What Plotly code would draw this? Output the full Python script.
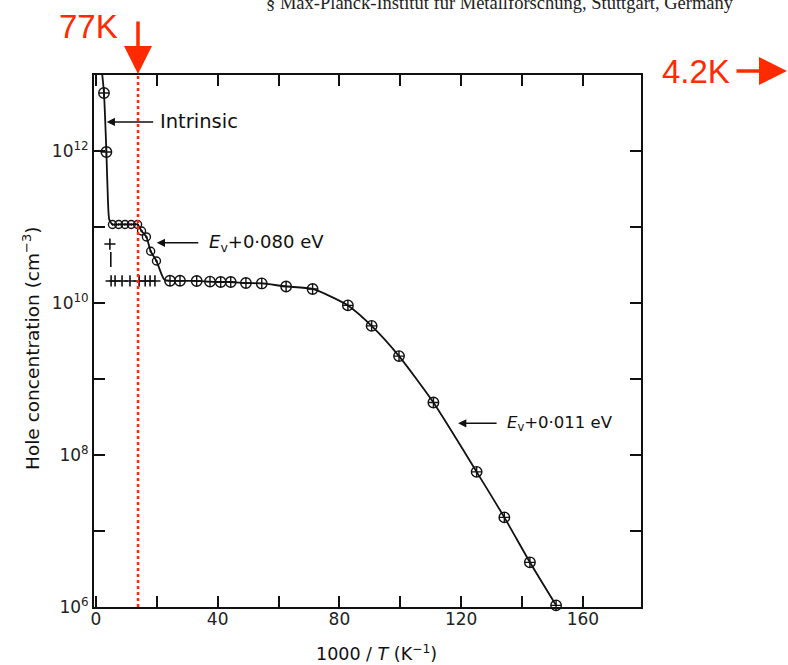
import numpy as np
import plotly.graph_objects as go

# ---- measured hole concentration vs inverse temperature ----
# intrinsic regime (crossed circles at the very left)
intrinsic_x = [2.66, 3.45]
intrinsic_y = [5.8e12, 9.7e11]

# E_v + 0.080 eV level (dotted circles)
deep_x = [5.45, 7.5, 9.56, 11.6, 13.7, 15.0, 16.6, 18.0, 19.9]
deep_y = [1.08e11, 1.08e11, 1.08e11, 1.08e11, 1.08e11, 8.85e10, 7.4e10, 4.8e10, 3.57e10]

# second sample (plain plus signs)
plus_x = [4.6, 5.0, 6.3, 8.6, 11.2, 14.2, 16.2, 17.8, 19.4]
plus_y = [5.97e10, 1.95e10, 1.95e10, 1.95e10, 1.95e10, 1.95e10, 1.95e10, 1.95e10, 1.95e10]
plus_gap_x = [4.9, 4.9]
plus_gap_y = [4.7e10, 2.98e10]

# E_v + 0.011 eV level (crossed circles)
shallow_x = [24.35, 27.63, 33.12, 37.5, 41.0, 44.3, 49.3, 54.5, 62.5, 71.2,
             82.8, 90.6, 99.6, 110.9, 125.1, 134.2, 142.6, 151.2]
shallow_y = [1.96e10, 1.96e10, 1.95e10, 1.91e10, 1.89e10, 1.89e10, 1.83e10, 1.81e10, 1.65e10, 1.53e10,
             9.3e9, 5.0e9, 2.0e9, 4.9e8, 6.0e7, 1.51e7, 3.87e6, 1.05e6]

# guide curve through the whole data set
curve_x = [2.1, 2.66, 3.45, 3.95, 4.4, 5.45, 7.5, 9.56, 11.6, 13.7, 15.0, 16.6, 18.0, 19.9, 22.4] + shallow_x
curve_y = [1.0e13, 5.8e12, 9.7e11, 2.3e11, 1.25e11, 1.08e11, 1.08e11, 1.08e11, 1.08e11, 1.08e11,
           8.85e10, 7.4e10, 4.8e10, 3.57e10, 2.05e10] + shallow_y

x_ticks = [0, 20, 40, 60, 80, 100, 120, 140, 160]
x_labels = ["0", "", "40", "", "80", "", "120", "", "160"]
y_ticks = [1e6, 1e7, 1e8, 1e9, 1e10, 1e11, 1e12, 1e13]
y_labels = ["10<sup>6</sup>", "", "10<sup>8</sup>", "", "10<sup>10</sup>", "", "10<sup>12</sup>", ""]

# 77 K marker as drawn on the inverse-temperature axis
mark_77k_x = 13.85

INK = "#111111"
RED = "#ff2a00"
FONT = "DejaVu Sans"

fig = go.Figure()

fig.add_trace(go.Scatter(x=curve_x, y=curve_y, mode="lines",
                         line=dict(color=INK, width=1.8, shape="spline", smoothing=0.6),
                         hoverinfo="skip", cliponaxis=True))
fig.add_trace(go.Scatter(x=plus_gap_x, y=plus_gap_y, mode="lines",
                         line=dict(color=INK, width=1.6), hoverinfo="skip"))
fig.add_trace(go.Scatter(x=plus_x, y=plus_y, mode="markers",
                         marker=dict(symbol="cross-thin-open", size=8, color=INK,
                                     line=dict(color=INK, width=1.6))))
fig.add_trace(go.Scatter(x=deep_x, y=deep_y, mode="markers",
                         marker=dict(symbol="circle-open-dot", size=8, color=INK,
                                     line=dict(color=INK, width=1.4))))
fig.add_trace(go.Scatter(x=intrinsic_x + shallow_x, y=intrinsic_y + shallow_y, mode="markers",
                         cliponaxis=False,
                         marker=dict(symbol="circle-cross-open", size=10.5, color=INK,
                                     line=dict(color=INK, width=1.4))))

axis_common = dict(showline=True, linewidth=2, linecolor=INK, mirror="allticks",
                   ticks="inside", ticklen=11, tickwidth=2, tickcolor=INK,
                   showgrid=False, zeroline=False,
                   tickfont=dict(family=FONT, size=17, color="#222222"))

fig.update_layout(
    width=788, height=665,
    margin=dict(l=94, r=147, t=75, b=58),
    paper_bgcolor="white", plot_bgcolor="white",
    showlegend=False,
    xaxis=dict(range=[-0.62, 179.1], tickmode="array", tickvals=x_ticks, ticktext=x_labels,
               ticklabelstandoff=-4, **axis_common),
    yaxis=dict(type="log", range=[6, 13], tickmode="array", tickvals=y_ticks, ticktext=y_labels,
               **axis_common),
)


def px(xp, yp):
    return (xp - 94) / 547, (607 - yp) / 532


def note(xp, yp, text, font, **kw):
    xa, ya = px(xp, yp)
    fig.add_annotation(xref="paper", yref="paper", x=xa, y=ya, text=text, showarrow=False,
                       xanchor="center", yanchor="middle", font=font, **kw)


# axis titles
note(376, 653, "1000 / <i>T</i> (K<sup>−1</sup>)", dict(family=FONT, size=17.5, color=INK))
note(31, 349, "Hole concentration (cm<sup>−3</sup>)", dict(family=FONT, size=18.5, color=INK),
     textangle=-90)

# labelled arrows pointing at the curve
labels = [
    (3.55, 2.41e12, 20.4, "Intrinsic", 19.5, 48),
    (20.0, 6.2e10, 36.4, "<i>E</i><sub>v</sub>+0·080 eV", 18, 43),
    (119.0, 2.61e8, 134.4, "<i>E</i><sub>v</sub>+0·011 eV", 16.5, 40),
]
for tip_x, val, text_x, text, size, tail in labels:
    fig.add_annotation(x=tip_x, y=np.log10(val), xref="x", yref="y", text="",
                       showarrow=True, arrowhead=2, arrowsize=1.1, arrowwidth=1.5,
                       arrowcolor=INK, ax=tail, ay=0)
    fig.add_annotation(x=text_x, y=np.log10(val), xref="x", yref="y", text=text,
                       showarrow=False, xanchor="left", yanchor="middle",
                       font=dict(family=FONT, size=size, color=INK))

# 77 K marker line
fig.add_shape(type="line", xref="x", yref="paper", x0=mark_77k_x, x1=mark_77k_x, y0=0, y1=1,
              line=dict(color=RED, width=2.5, dash="3px,3px"))

# red temperature callouts above the frame
x0, y0 = px(138, 74)
fig.add_annotation(xref="paper", yref="paper", x=x0, y=y0, text="", showarrow=True,
                   arrowhead=2, arrowsize=1.6, arrowwidth=3.5, arrowcolor=RED,
                   ax=0, ay=-54)
note(88, 26, "77K", dict(family="Liberation Sans", size=33, color=RED))
x2, y2 = px(787, 71)
fig.add_annotation(xref="paper", yref="paper", x=x2, y=y2, text="", showarrow=True,
                   arrowhead=2, arrowsize=1.6, arrowwidth=3.5, arrowcolor=RED,
                   ax=-52, ay=0)
note(696, 72, "4.2K", dict(family="Liberation Sans", size=33, color=RED))

# affiliation line at the page top
note(500, 2.5, "§ Max-Planck-Institut für Metallforschung, Stuttgart, Germany",
     dict(family="Liberation Serif", size=18.5, color="#222222"))

fig.write_html("out.html")
